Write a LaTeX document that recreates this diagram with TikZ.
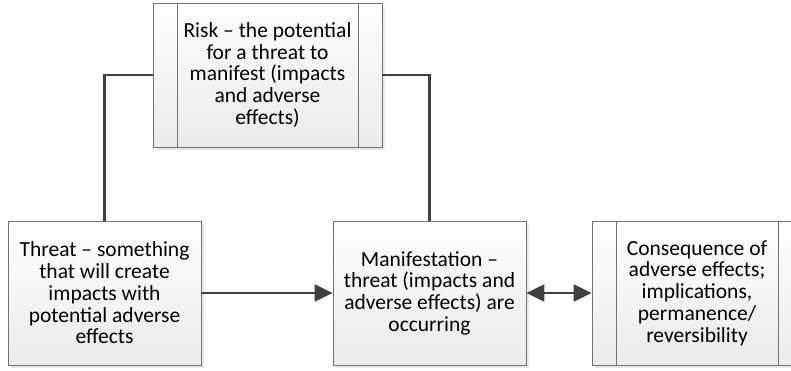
\documentclass[tikz,border=0pt]{standalone}
\usepackage{fontspec}
\setmainfont{Carlito}
\usetikzlibrary{arrows.meta,shadows}

\begin{document}
\begin{tikzpicture}[x=1pt,y=-1pt,
  every node/.style={font=\fontsize{21.5}{21.7}\selectfont},
  box/.style={draw=gray!90!black,line width=0.8pt,top color=white,bottom color=gray!16,
    minimum width=193pt,minimum height=144pt,inner sep=0pt,align=center,
    drop shadow={shadow xshift=3pt,shadow yshift=-3pt,fill=gray!30,opacity=0.6}},
  procbox/.style={box,path picture={
    \draw[gray!90!black,line width=0.8pt]
      ([xshift=24pt]path picture bounding box.north west) -- ([xshift=24pt]path picture bounding box.south west)
      ([xshift=-24pt]path picture bounding box.north east) -- ([xshift=-24pt]path picture bounding box.south east);}},
  link/.style={draw=black!75,line width=2.2pt},
  >={Triangle[length=18pt,width=17pt]}]
\useasboundingbox[fill=white] (0,0) rectangle (791,370);
\node[procbox,minimum width=229pt] (risk) at (267.5,75) {Risk -- the potential\\for a threat to\\manifest (impacts\\and adverse\\effects)};
\node[box] (threat) at (104.5,293) {Threat -- something\\that will create\\impacts with\\potential adverse\\effects};
\node[box] (manif) at (429.5,293) {Manifestation --\\threat (impacts and\\adverse effects) are\\occurring};
\node[procbox,minimum width=210pt] (cons) at (697,293) {Consequence of\\adverse effects;\\implications,\\permanence/\\reversibility};
\draw[link] (threat.north) |- (risk.west);
\draw[link] (risk.east) -| (manif.north);
\draw[link,->] (threat) -- (manif);
\draw[link,<->] (manif) -- (cons);
\end{tikzpicture}
\end{document}
